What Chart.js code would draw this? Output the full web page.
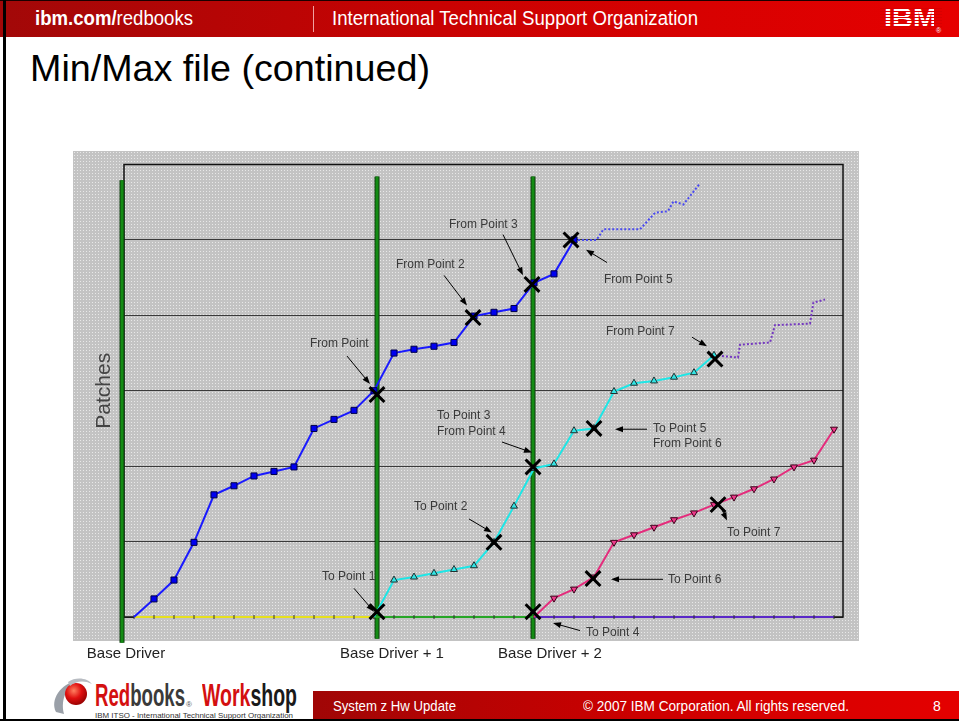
<!DOCTYPE html>
<html>
<head>
<meta charset="utf-8">
<script src="https://cdn.jsdelivr.net/npm/chart.js@4.4.1/dist/chart.umd.min.js"></script>
<style>
  html, body { margin: 0; padding: 0; background: #fff; }
  body { width: 959px; height: 721px; position: relative; overflow: hidden; font-family: "Liberation Sans", Arial, sans-serif; }
  .fit { display: inline-block; white-space: nowrap; transform-origin: 0 50%; position: absolute; }
  #header { position: absolute; left: 0; top: 0; width: 959px; height: 36px; border-top: 1px solid #1a0000;
            background: linear-gradient(90deg, #a20808 0%, #c80202 45%, #e60000 100%); }
  #sep { position: absolute; left: 313px; top: 6px; width: 1px; height: 26px; background: #f0a0a0; }
  #frameL { position: absolute; left: 3px; top: 0; width: 3px; height: 721px; background: #000; }
  #frameB { position: absolute; left: 0; top: 719px; width: 959px; height: 2px; background: #000; }
  #ibm { position: absolute; left: 884px; top: 6px; height: 24px; overflow: hidden; }
  #ibm span { font-weight: bold; font-size: 27px; line-height: 24px; color: #fff; }
  #ibmStripes { position: absolute; left: 880px; top: 6px; width: 62px; height: 24px;
                background: repeating-linear-gradient(180deg, rgba(0,0,0,0) 0px, rgba(0,0,0,0) 2px, #d80000 2px, #d80000 3px); }
  #title { font-size: 36px; line-height: 36px; color: #000; left: 30px; top: 51px; }
  #chartBox { position: absolute; left: 73px; top: 151px; width: 786px; height: 520px; }
  #footer { position: absolute; left: 313px; top: 691px; width: 646px; height: 28px;
            background: linear-gradient(90deg, #a00606 0%, #cc0000 50%, #e40000 100%); }
  .ft { color: #fff; font-size: 14px; line-height: 14px; top: 699px; }
  .logo { font-weight: bold; font-size: 32px; line-height: 32px; top: 679px; }
</style>
</head>
<body>
<div id="header"></div>
<div id="sep"></div>
<span class="fit" id="hdrLeft" style="left:35px;top:8px;font-size:20px;line-height:20px;color:#fff;"><b>ibm.com/</b>redbooks</span>
<span class="fit" id="hdrMid" style="left:332px;top:8px;font-size:20px;line-height:20px;color:#fff;">International Technical Support Organization</span>
<div id="ibm"><span class="fit" id="ibmText" style="position:relative;">IBM</span></div>
<div id="ibmStripes"></div>
<span class="fit" style="left:936px;top:27px;font-size:7px;color:#fff;">®</span>

<span class="fit" id="title">Min/Max file (continued)</span>

<div id="chartBox"><canvas id="patchChart" width="786" height="520"></canvas></div>

<div id="footer"></div>
<span class="fit ft" id="ftLeft" style="left:333px;">System z Hw Update</span>
<span class="fit ft" id="ftMid" style="left:583px;">© 2007 IBM Corporation. All rights reserved.</span>
<span class="fit ft" id="ftPage" style="left:933px;">8</span>

<svg style="position:absolute;left:48px;top:672px;" width="48" height="48" viewBox="0 0 48 48">
  <defs>
    <radialGradient id="ball" cx="0.4" cy="0.35" r="0.7">
      <stop offset="0" stop-color="#ff8060"/>
      <stop offset="0.5" stop-color="#e01010"/>
      <stop offset="1" stop-color="#900000"/>
    </radialGradient>
  </defs>
  <path d="M8 40 C2 28 12 12 30 8 C20 14 12 26 16 42 Z" fill="#9aa0a8"/>
  <circle cx="28" cy="22" r="11" fill="url(#ball)"/>
  <path d="M20 10 C28 4 40 6 44 12 C36 8 28 9 22 14 Z" fill="#b8bcc2"/>
</svg>
<span class="fit logo" id="logoRed" style="left:95px;"><span style="color:#d41010">Red</span><span style="color:#3a3a3a">books</span></span>
<span class="fit" style="left:186px;top:700px;font-size:8px;color:#555;">®</span>
<span class="fit logo" id="logoWork" style="left:202px;"><span style="color:#d41010">Work</span><span style="color:#1a1a1a">shop</span></span>
<span class="fit" id="logoSub" style="left:95px;top:711px;font-size:8px;line-height:9px;color:#333;">IBM ITSO - International Technical Support Organization</span>
<div id="frameL"></div>
<div id="frameB"></div>

<script>
// ---- values (x = build step, y = patches) ----
const blueSteps   = [0, 1, 2, 3, 4, 5, 6, 7, 8, 9, 10, 11, 12, 13, 14, 15, 16, 17, 18, 19, 20, 21, 22];
const bluePatches = [0, 0.24, 0.49, 0.99, 1.62, 1.74, 1.87, 1.93, 1.99, 2.5, 2.62, 2.74, 3.0,
                     3.5, 3.55, 3.59, 3.64, 3.99, 4.04, 4.09, 4.43, 4.55, 5.0];
const blueTailSteps   = [22, 23.13, 23.47, 25.3, 26.05, 26.7, 26.97, 27.47, 28.3];
const blueTailPatches = [5.0, 5.0, 5.14, 5.14, 5.36, 5.38, 5.51, 5.47, 5.75];

const cyanSteps   = [12, 13, 14, 15, 16, 17, 18, 19, 20, 21, 22, 23, 24, 25, 26, 27, 28, 29];
const cyanPatches = [0, 0.49, 0.53, 0.58, 0.63, 0.68, 0.99, 1.47, 1.97, 2.03, 2.47, 2.5,
                     2.99, 3.1, 3.13, 3.18, 3.24, 3.47];
const purpleTailSteps   = [29, 30.2, 30.3, 31.8, 32.05, 33.8, 33.97, 34.55];
const purpleTailPatches = [3.47, 3.44, 3.61, 3.64, 3.87, 3.89, 4.17, 4.21];

const pinkSteps   = [20, 21, 22, 23, 24, 25, 26, 27, 28, 29, 30, 31, 32, 33, 34, 35];
const pinkPatches = [0, 0.25, 0.37, 0.53, 0.99, 1.09, 1.19, 1.29, 1.38, 1.49, 1.59, 1.7,
                     1.83, 1.99, 2.08, 2.49];

const yellowBaseSteps   = [0, 1, 2, 3, 4, 5, 6, 7, 8, 9, 10, 11, 12];
const yellowBasePatches = [0, 0, 0, 0, 0, 0, 0, 0, 0, 0, 0, 0, 0];
const greenBaseSteps    = [12, 13, 14, 15, 16, 17, 18, 19, 20];
const greenBasePatches  = [0, 0, 0, 0, 0, 0, 0, 0, 0];
const purpleBaseSteps   = [20, 21, 22, 23, 24, 25, 26, 27, 28, 29, 30, 31, 32, 33, 34, 35];
const purpleBasePatches = [0, 0, 0, 0, 0, 0, 0, 0, 0, 0, 0, 0, 0, 0, 0, 0];

// min/max crossing points (the black X marks)
const crossSteps   = [12.15, 12.15, 16.95, 18.0, 19.9, 19.95, 19.95, 21.85, 23.0, 22.95, 29.05, 29.2];
const crossPatches = [2.95, 0.07, 3.97, 0.99, 4.41, 1.99, 0.07, 5.0, 2.5, 0.51, 3.42, 1.49];

// base driver drops (green verticals) and their labels
const driverSteps  = [-0.6, 12.15, 19.95];
const driverTop    = [5.79, 5.84, 5.84];
const driverBottom = [-0.34, -0.29, -0.29];
const driverLabels = ['Base Driver', 'Base Driver + 1', 'Base Driver + 2'];
const driverLabelSteps = [-0.4, 12.9, 20.8];

// callouts
const noteText  = ['From Point', 'From Point 2', 'From Point 3', 'From Point 5', 'From Point 7', 'To Point 1',
                   'To Point 3', 'From Point 4', 'To Point 2', 'To Point 5', 'From Point 6', 'To Point 7',
                   'To Point 6', 'To Point 4'];
const noteStep  = [8.8, 13.1, 15.75, 23.5, 23.6, 9.4, 15.15, 15.15, 14.0, 25.95, 25.95, 29.65, 26.7, 22.6];
const notePatch = [3.62, 4.67, 5.2, 4.47, 3.78, 0.53, 2.67, 2.46, 1.46, 2.5, 2.3, 1.12, 0.5, -0.21];
const arrowFrom = [[10.65, 3.46], [11.0, 0.38], [15.5, 4.53], [18.45, 5.07], [23.65, 4.7], [27.9, 3.71],
                   [18.4, 2.32], [16.75, 1.3], [25.65, 2.49], [29.35, 1.45], [26.45, 0.5], [22.3, -0.18]];
const arrowTo   = [[11.8, 3.09], [12.0, 0.07], [16.65, 4.13], [19.45, 4.53], [22.6, 4.87], [28.65, 3.59],
                   [19.9, 2.18], [17.9, 1.12], [24.05, 2.49], [29.65, 1.28], [23.85, 0.5], [20.95, -0.08]];

const pts = (xs, ys) => xs.map((x, i) => ({ x: x, y: ys[i] }));
const hideFirst = (r) => (c) => c.dataIndex === 0 ? 0 : r;

function dotPattern(ctx) {
    const c = document.createElement('canvas');
    c.width = 3; c.height = 3;
    const g = c.getContext('2d');
    g.fillStyle = '#c3c3c3'; g.fillRect(0, 0, 3, 3);
    g.fillStyle = '#e8e8e8'; g.fillRect(1, 1, 1, 1);
    return ctx.createPattern(c, 'repeat');
}

function drawArrow(ctx, x1, y1, x2, y2) {
    const a = Math.atan2(y2 - y1, x2 - x1);
    ctx.beginPath();
    ctx.moveTo(x1, y1);
    ctx.lineTo(x2 - Math.cos(a) * 5, y2 - Math.sin(a) * 5);
    ctx.stroke();
    ctx.beginPath();
    ctx.moveTo(x2, y2);
    ctx.lineTo(x2 - 8 * Math.cos(a) + 3 * Math.sin(a), y2 - 8 * Math.sin(a) - 3 * Math.cos(a));
    ctx.lineTo(x2 - 8 * Math.cos(a) - 3 * Math.sin(a), y2 - 8 * Math.sin(a) + 3 * Math.cos(a));
    ctx.closePath();
    ctx.fill();
}

const slidePlugin = {
    id: 'slidePlugin',
    beforeDraw(chart) {
        const ctx = chart.ctx;
        ctx.save();
        ctx.fillStyle = dotPattern(ctx);
        ctx.fillRect(0, 0, chart.width, 490);
        ctx.restore();
    },
    beforeDatasetsDraw(chart) {
        const ctx = chart.ctx, a = chart.chartArea;
        ctx.save();
        ctx.strokeStyle = '#111';
        ctx.lineWidth = 1.5;
        ctx.strokeRect(a.left, a.top, a.right - a.left, a.bottom - a.top);
        ctx.restore();
    },
    afterDatasetsDraw(chart) {
        const ctx = chart.ctx, xs = chart.scales.x, ys = chart.scales.y;
        ctx.save();
        ctx.strokeStyle = '#000';
        ctx.fillStyle = '#000';
        ctx.lineWidth = 1;
        arrowFrom.forEach((f, i) => {
            const t = arrowTo[i];
            drawArrow(ctx, xs.getPixelForValue(f[0]), ys.getPixelForValue(f[1]),
                      xs.getPixelForValue(t[0]), ys.getPixelForValue(t[1]));
        });
        ctx.font = '12px "Liberation Sans", Arial, sans-serif';
        ctx.fillStyle = '#3a3a3a';
        ctx.textAlign = 'left';
        ctx.textBaseline = 'middle';
        noteText.forEach((txt, i) => {
            ctx.fillText(txt, xs.getPixelForValue(noteStep[i]), ys.getPixelForValue(notePatch[i]));
        });
        ctx.restore();
    }
};

const driverSets = [];
driverSteps.forEach((s, i) => {
    const line = pts([s, s], [driverBottom[i], driverTop[i]]);
    driverSets.push({ data: line, borderColor: '#0c3a0c', borderWidth: 5, pointRadius: 0, order: 9, clip: false });
    driverSets.push({ data: line, borderColor: '#148c14', borderWidth: 3, pointRadius: 0, order: 8, clip: false });
});

const baseTick = { pointStyle: 'line', rotation: 90, pointRadius: 2, pointBorderColor: '#333', pointBorderWidth: 1 };

new Chart(document.getElementById('patchChart'), {
    type: 'line',
    data: {
        datasets: [
            { data: pts(crossSteps, crossPatches), showLine: false, pointStyle: 'crossRot', pointRadius: 10.5,
              pointBorderColor: '#000', pointBorderWidth: 3, order: 0, clip: false },
            { data: pts(blueSteps, bluePatches), borderColor: '#1a1aff', borderWidth: 2,
              pointStyle: 'rect', pointRadius: hideFirst(4.3), pointBackgroundColor: '#0000f0',
              pointBorderColor: '#00004a', pointBorderWidth: 1, order: 2, clip: false },
            { data: pts(cyanSteps, cyanPatches), borderColor: '#1ee6e6', borderWidth: 2,
              pointStyle: 'triangle', pointRadius: hideFirst(4), pointBackgroundColor: '#33e4e4',
              pointBorderColor: '#1f2f2f', pointBorderWidth: 1, order: 2, clip: false },
            { data: pts(pinkSteps, pinkPatches), borderColor: '#e42c7c', borderWidth: 2,
              pointStyle: 'triangle', pointRotation: 180, pointRadius: hideFirst(4), pointBackgroundColor: '#ec3a8a',
              pointBorderColor: '#3a0018', pointBorderWidth: 1, order: 2, clip: false },
            { data: pts(blueTailSteps, blueTailPatches), borderColor: '#4a4af0', borderWidth: 2,
              borderDash: [2, 2], pointRadius: 0, order: 3, clip: false },
            { data: pts(purpleTailSteps, purpleTailPatches), borderColor: '#7438c0', borderWidth: 2,
              borderDash: [2, 2], pointRadius: 0, order: 3, clip: false },
            Object.assign({ data: pts(yellowBaseSteps, yellowBasePatches), borderColor: '#e6e01e', borderWidth: 2,
              order: 4, clip: false }, baseTick),
            Object.assign({ data: pts(greenBaseSteps, greenBasePatches), borderColor: '#26a626', borderWidth: 2,
              order: 4, clip: false }, baseTick),
            Object.assign({ data: pts(purpleBaseSteps, purpleBasePatches), borderColor: '#5a28c8', borderWidth: 2,
              order: 4, clip: false }, baseTick)
        ].concat(driverSets)
    },
    options: {
        responsive: false,
        animation: false,
        events: [],
        layout: { padding: { top: 10, right: 16, left: 0, bottom: 0 } },
        plugins: { legend: { display: false }, tooltip: { enabled: false } },
        elements: { line: { tension: 0 } },
        scales: {
            x: {
                type: 'linear', min: -0.5, max: 35.45,
                grid: { display: false }, border: { display: false },
                afterBuildTicks: (s) => { s.ticks = driverLabelSteps.map(v => ({ value: v })); },
                afterFit: (s) => { s.height = 54; s.paddingLeft = 0; s.paddingRight = 0; },
                ticks: {
                    autoSkip: false, maxRotation: 0, padding: 20, color: '#222',
                    font: { size: 15, family: '"Liberation Sans", Arial, sans-serif' },
                    callback: (v, i) => driverLabels[i]
                }
            },
            y: {
                min: 0, max: 6,
                afterFit: (s) => { s.width = 51; s.paddingTop = 0; s.paddingBottom = 0; },
                ticks: { display: false, stepSize: 1 },
                grid: { color: '#3a3a3a', lineWidth: 1, drawTicks: false },
                border: { display: false },
                title: { display: true, text: 'Patches', color: '#444',
                         font: { size: 21, family: '"Liberation Sans", Arial, sans-serif' }, padding: { top: 19 } }
            }
        }
    },
    plugins: [slidePlugin]
});

// squeeze the slide texts to the widths they take on the original slide
function fitText(id, width) {
    const el = document.getElementById(id);
    const w = el.getBoundingClientRect().width;
    el.style.transform = 'scaleX(' + (width / w) + ')';
}
fitText('hdrLeft', 158);
fitText('hdrMid', 366);
fitText('ibmText', 53);
fitText('title', 400);
fitText('ftLeft', 123);
fitText('ftMid', 266);
fitText('logoRed', 90);
fitText('logoWork', 95);
fitText('logoSub', 198);
</script>
</body>
</html>
